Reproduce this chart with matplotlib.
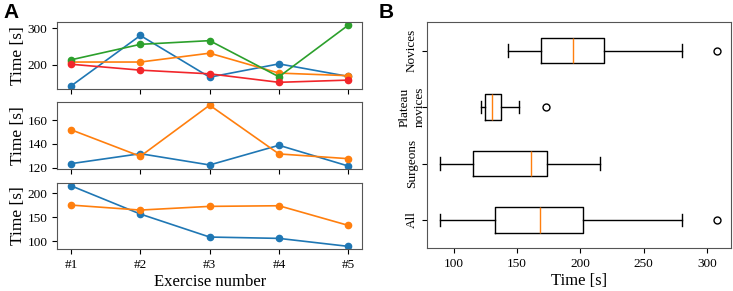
import matplotlib.pyplot as plt
import numpy as np

# exercise numbers on the x axis of panel A
exercises = ["#1", "#2", "#3", "#4", "#5"]

# panel A, top: novices (time per exercise, s)
nov_blue = [143, 280, 167, 203, 169]
nov_orange = [208, 208, 232, 178, 171]
nov_green = [214, 256, 266, 168, 308]
nov_red = [202, 186, 176, 153, 159]

# panel A, middle: plateau novices
plat_blue = [123.4, 131.8, 122.3, 138.9, 121.4]
plat_orange = [152, 129.6, 172.7, 131.6, 127.6]

# panel A, bottom: surgeons
surg_blue = [215.8, 156.9, 109, 106.2, 89.6]
surg_orange = [175.6, 165.2, 172.9, 174.2, 133.3]

group_labels = ["All", "Surgeons", "Plateau\nnovices", "Novices"]

blue = "#1f77b4"
orange = "#ff7f0e"
green = "#2ca02c"
red = "#f2262b"

plt.rcParams['font.family'] = ['Liberation Serif', 'DejaVu Serif']
plt.rcParams['font.size'] = 9.5

fig = plt.figure(figsize=(7.33, 2.91), dpi=100)

x = np.arange(len(exercises))

ax1 = fig.add_axes([0.078, 0.694, 0.416, 0.230])
ax2 = fig.add_axes([0.078, 0.419, 0.416, 0.230], sharex=ax1)
ax3 = fig.add_axes([0.078, 0.143, 0.416, 0.229], sharex=ax1)

line_kw = dict(marker='o', markersize=4.5, linewidth=1.2)
ax1.plot(x, nov_blue, color=blue, **line_kw)
ax1.plot(x, nov_orange, color=orange, **line_kw)
ax1.plot(x, nov_green, color=green, **line_kw)
ax1.plot(x, nov_red, color=red, **line_kw)

ax2.plot(x, plat_blue, color=blue, **line_kw)
ax2.plot(x, plat_orange, color=orange, **line_kw)

ax3.plot(x, surg_blue, color=blue, **line_kw)
ax3.plot(x, surg_orange, color=orange, **line_kw)

ax1.set_yticks([200, 300])
ax2.set_yticks([120, 140, 160])
ax3.set_yticks([100, 150, 200])

for ax in (ax1, ax2, ax3):
    ax.set_ylabel("Time [s]", fontsize=12.5, labelpad=1)
    for s in ax.spines.values():
        s.set_color("#555555")
ax1.tick_params(labelbottom=False)
ax2.tick_params(labelbottom=False)
ax3.set_xticks(x)
ax3.set_xticklabels(exercises)
ax3.set_xlabel("Exercise number", fontsize=12, labelpad=2)

# panel B
ax4 = fig.add_axes([0.582, 0.147, 0.415, 0.776])
all_vals = nov_blue + nov_orange + nov_green + nov_red + plat_blue + plat_orange + surg_blue + surg_orange
surg_vals = surg_blue + surg_orange
plat_vals = plat_blue + plat_orange
nov_vals = nov_blue + nov_orange + nov_green + nov_red
ax4.boxplot([all_vals, surg_vals, plat_vals, nov_vals], vert=False, widths=0.45,
            medianprops=dict(color=orange), flierprops=dict(markersize=5))
ax4.set_yticks([1, 2, 3, 4])
ax4.set_yticklabels(group_labels, rotation=90, va='center', ha='center',
                    multialignment='center', linespacing=1.3)
ax4.tick_params(axis='y', pad=7)
ax4.set_xticks([100, 150, 200, 250, 300])
ax4.set_xlabel("Time [s]", fontsize=12, labelpad=2)
for s in ax4.spines.values():
    s.set_color("#555555")

fig.text(0.005, 0.99, "A", fontsize=15, fontweight='bold', family='Liberation Sans', va='top')
fig.text(0.517, 0.99, "B", fontsize=15, fontweight='bold', family='Liberation Sans', va='top')

fig.savefig("out.png", dpi=100)
